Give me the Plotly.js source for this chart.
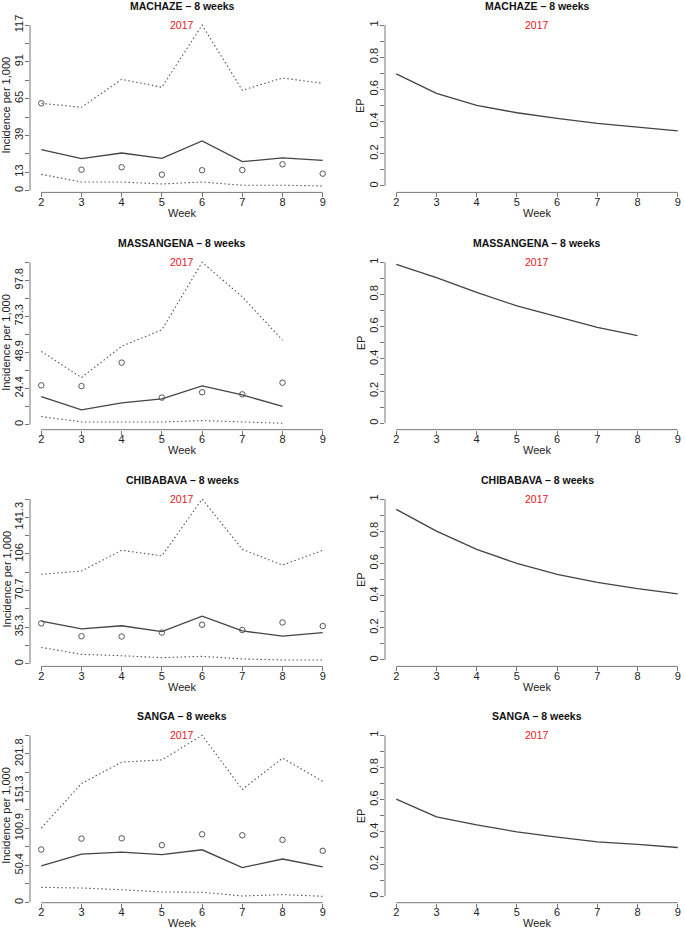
<!DOCTYPE html>
<html>
<head>
<meta charset="utf-8">
<script src="https://cdn.plot.ly/plotly-3.0.1.min.js"></script>
<style>html,body{margin:0;padding:0;background:#fff;}#chart{width:685px;height:930px;}</style>
</head>
<body>
<div id="chart"></div>
<script>
// ---------------- DATA ----------------
const weeks = [2, 3, 4, 5, 6, 7, 8, 9];
const districts = ["MACHAZE", "MASSANGENA", "CHIBABAVA", "SANGA"];
const periodLabel = "2017";
const titleSuffix = " – 8 weeks";

const machazeUpper    = [61.7, 58.9, 78.6, 73.0, 117, 70.9, 79.6, 75.8];
const machazeMean     = [29.0, 22.6, 26.6, 22.8, 35.1, 20.5, 23.1, 21.4];
const machazeLower    = [11.5, 6.1, 6.1, 4.7, 6.1, 3.8, 3.8, 3.3];
const machazeObserved = [61.7, 14.8, 16.5, 11.3, 14.4, 14.6, 18.6, 12.0];
const machazeEP       = [0.696, 0.576, 0.501, 0.455, 0.420, 0.389, 0.366, 0.342];
const machazeTicks    = ["0", "13", "", "39", "", "65", "", "91", "", "117"];

const massangenaUpper    = [49.6, 31.9, 53.1, 64.3, 110, 86.6, 57.2];
const massangenaMean     = [19.0, 10.0, 14.7, 17.4, 26.3, 20.1, 12.3];
const massangenaLower    = [5.4, 1.8, 1.8, 1.8, 2.7, 1.8, 0.9];
const massangenaObserved = [26.6, 26.1, 42.0, 18.3, 21.9, 20.5, 28.4];
const massangenaEP       = [0.988, 0.905, 0.814, 0.729, 0.663, 0.596, 0.545];
const massangenaTicks    = ["0", "", "24.4", "", "48.9", "", "73.3", "", "97.8", ""];

const chibabavaUpper    = [86.4, 89.6, 109.6, 104.2, 159, 110.5, 95.3, 109.6];
const chibabavaMean     = [41.3, 33.7, 36.8, 31.1, 46.0, 31.8, 26.7, 30.2];
const chibabavaLower    = [15.9, 9.2, 7.9, 6.0, 7.3, 4.8, 3.8, 3.8];
const chibabavaObserved = [39.1, 26.7, 26.4, 30.2, 37.8, 32.7, 40.0, 36.5];
const chibabavaEP       = [0.936, 0.801, 0.687, 0.600, 0.532, 0.482, 0.443, 0.410];
const chibabavaTicks    = ["0", "", "35.3", "", "70.7", "", "106", "", "141.3", ""];

const sangaUpper    = [101.1, 161.5, 190.6, 193.7, 227, 153.5, 196.0, 164.7];
const sangaMean     = [49.7, 65.8, 68.5, 64.9, 71.6, 47.4, 59.1, 48.3];
const sangaLower    = [20.6, 19.7, 17.4, 14.3, 13.9, 8.9, 10.7, 8.5];
const sangaObserved = [72.0, 86.8, 87.2, 77.9, 92.6, 91.3, 85.0, 70.2];
const sangaEP       = [0.604, 0.494, 0.444, 0.400, 0.367, 0.338, 0.322, 0.303];
const sangaTicks    = ["0", "", "50.4", "", "100.9", "", "151.3", "", "201.8", ""];

const epTickVals = [0, 0.1, 0.2, 0.3, 0.4, 0.5, 0.6, 0.7, 0.8, 0.9, 1];
const epTickText = ["0", "", "0.2", "", "0.4", "", "0.6", "", "0.8", "", "1"];

const series = [
  {upper: machazeUpper, mean: machazeMean, lower: machazeLower, obs: machazeObserved, ep: machazeEP, ticks: machazeTicks},
  {upper: massangenaUpper, mean: massangenaMean, lower: massangenaLower, obs: massangenaObserved, ep: massangenaEP, ticks: massangenaTicks},
  {upper: chibabavaUpper, mean: chibabavaMean, lower: chibabavaLower, obs: chibabavaObserved, ep: chibabavaEP, ticks: chibabavaTicks},
  {upper: sangaUpper, mean: sangaMean, lower: sangaLower, obs: sangaObserved, ep: sangaEP, ticks: sangaTicks}
];

// ---------------- LAYOUT GEOMETRY (px) ----------------
const W = 685, H = 930;
const rowTop = [18.6, 255.9, 492.6, 728.9];
const plotH = 173.8;
const plotW = 304;
const colLeft = [30, 385];
const FONT = "Liberation Sans, Arial, Helvetica, sans-serif";
const AXIS_COLOR = "#777";
const LINE_COLOR = "#444";
const DOT_COLOR = "#555";
const DOT = "1.5px,2.5px";

const px = p => p / W;
const py = p => 1 - p / H;

const traces = [];
const layout = {
  width: W, height: H,
  margin: {l: 0, r: 0, t: 0, b: 0},
  paper_bgcolor: "#fff", plot_bgcolor: "#fff",
  showlegend: false,
  font: {family: FONT, size: 11, color: "#222"},
  annotations: [], shapes: []
};

const xStart = 2 - 0.04 * 7, xEnd = 9 + 0.04 * 7;

function axisBase() {
  return {
    showgrid: false, zeroline: false, showline: false,
    ticks: "outside", ticklen: 4, tickwidth: 1, tickcolor: AXIS_COLOR,
    tickfont: {family: FONT, size: 11, color: "#222"},
    fixedrange: true
  };
}

series.forEach((s, i) => {
  const top = rowTop[i], bottom = top + plotH;
  for (let c = 0; c < 2; c++) {
    const n = 2 * i + c + 1;
    const xName = n === 1 ? "xaxis" : "xaxis" + n;
    const yName = n === 1 ? "yaxis" : "yaxis" + n;
    const xRef = n === 1 ? "x" : "x" + n;
    const yRef = n === 1 ? "y" : "y" + n;
    const left = colLeft[c];
    const right = Math.min(left + plotW, W);
    const xMax = xStart + (xEnd - xStart) * (right - left) / plotW;

    layout[xName] = Object.assign(axisBase(), {
      domain: [px(left), px(right)],
      range: [xStart, xMax],
      anchor: yRef,
      tickmode: "array", tickvals: weeks, ticktext: weeks.map(String),
      ticklabelstandoff: -5
    });

    let yTickVals, yTickText, yRange, yTop;
    if (c === 0) {
      const maxU = Math.max(...s.upper);
      const minL = Math.min(...s.lower);
      const pad = 0.04 * (maxU - minL);
      yRange = [minL - pad, maxU + pad];
      yTickVals = s.ticks.map((t, k) => maxU / 9 * k);
      yTickText = s.ticks;
      yTop = maxU;
    } else {
      yRange = [-0.04, 1.04];
      yTickVals = epTickVals;
      yTickText = epTickText;
      yTop = 1;
    }
    layout[yName] = Object.assign(axisBase(), {
      domain: [py(bottom), py(top)],
      range: yRange,
      anchor: xRef,
      tickmode: "array", tickvals: yTickVals, ticktext: yTickText,
      tickangle: -90, ticklabelstandoff: -2
    });

    // R-style axis lines spanning only the tick range
    layout.shapes.push({type: "line", xref: xRef, yref: yRef + " domain",
      x0: weeks[0], x1: weeks[weeks.length - 1], y0: 0, y1: 0,
      line: {color: AXIS_COLOR, width: 1}});
    layout.shapes.push({type: "line", xref: xRef + " domain", yref: yRef,
      x0: 0, x1: 0, y0: 0, y1: yTop,
      line: {color: AXIS_COLOR, width: 1}});

    const cx = left + plotW / 2;
    layout.annotations.push({
      text: districts[i] + titleSuffix, xref: "paper", yref: "paper",
      x: px(cx), y: py(top - 12.6), xanchor: "center", yanchor: "middle",
      showarrow: false, font: {family: FONT, size: 10.5, color: "#111", weight: "bold"}
    });
    layout.annotations.push({
      text: periodLabel, xref: "paper", yref: "paper",
      x: px(cx), y: py(top + 6.5), xanchor: "center", yanchor: "middle",
      showarrow: false, font: {family: FONT, size: 10.5, color: "#e8141c"}
    });
    layout.annotations.push({
      text: "Week", xref: "paper", yref: "paper",
      x: px(cx), y: py(bottom + 20.5), xanchor: "center", yanchor: "middle",
      showarrow: false, font: {family: FONT, size: 11, color: "#222"}
    });
    layout.annotations.push({
      text: c === 0 ? "Incidence per 1,000" : "EP", xref: "paper", yref: "paper",
      x: px(c === 0 ? 6 : 360.5), y: py(top + plotH / 2), xanchor: "center", yanchor: "middle",
      textangle: -90, showarrow: false, font: {family: FONT, size: 11, color: "#222"}
    });

    if (c === 0) {
      const xs = arr => weeks.slice(0, arr.length);
      traces.push({x: xs(s.upper), y: s.upper, xaxis: xRef, yaxis: yRef, type: "scatter", mode: "lines",
        line: {color: DOT_COLOR, width: 1.1, dash: DOT}, hoverinfo: "skip"});
      traces.push({x: xs(s.mean), y: s.mean, xaxis: xRef, yaxis: yRef, type: "scatter", mode: "lines",
        line: {color: LINE_COLOR, width: 1.3}, hoverinfo: "skip"});
      traces.push({x: xs(s.lower), y: s.lower, xaxis: xRef, yaxis: yRef, type: "scatter", mode: "lines",
        line: {color: DOT_COLOR, width: 1.1, dash: DOT}, hoverinfo: "skip"});
      traces.push({x: xs(s.obs), y: s.obs, xaxis: xRef, yaxis: yRef, type: "scatter", mode: "markers",
        marker: {symbol: "circle-open", size: 5.5, color: "#555", line: {width: 1, color: "#555"}}, hoverinfo: "skip"});
    } else {
      traces.push({x: weeks.slice(0, s.ep.length), y: s.ep, xaxis: xRef, yaxis: yRef, type: "scatter", mode: "lines",
        line: {color: LINE_COLOR, width: 1.3}, hoverinfo: "skip"});
    }
  }
});

Plotly.newPlot("chart", traces, layout, {staticPlot: true, displayModeBar: false});
</script>
</body>
</html>
